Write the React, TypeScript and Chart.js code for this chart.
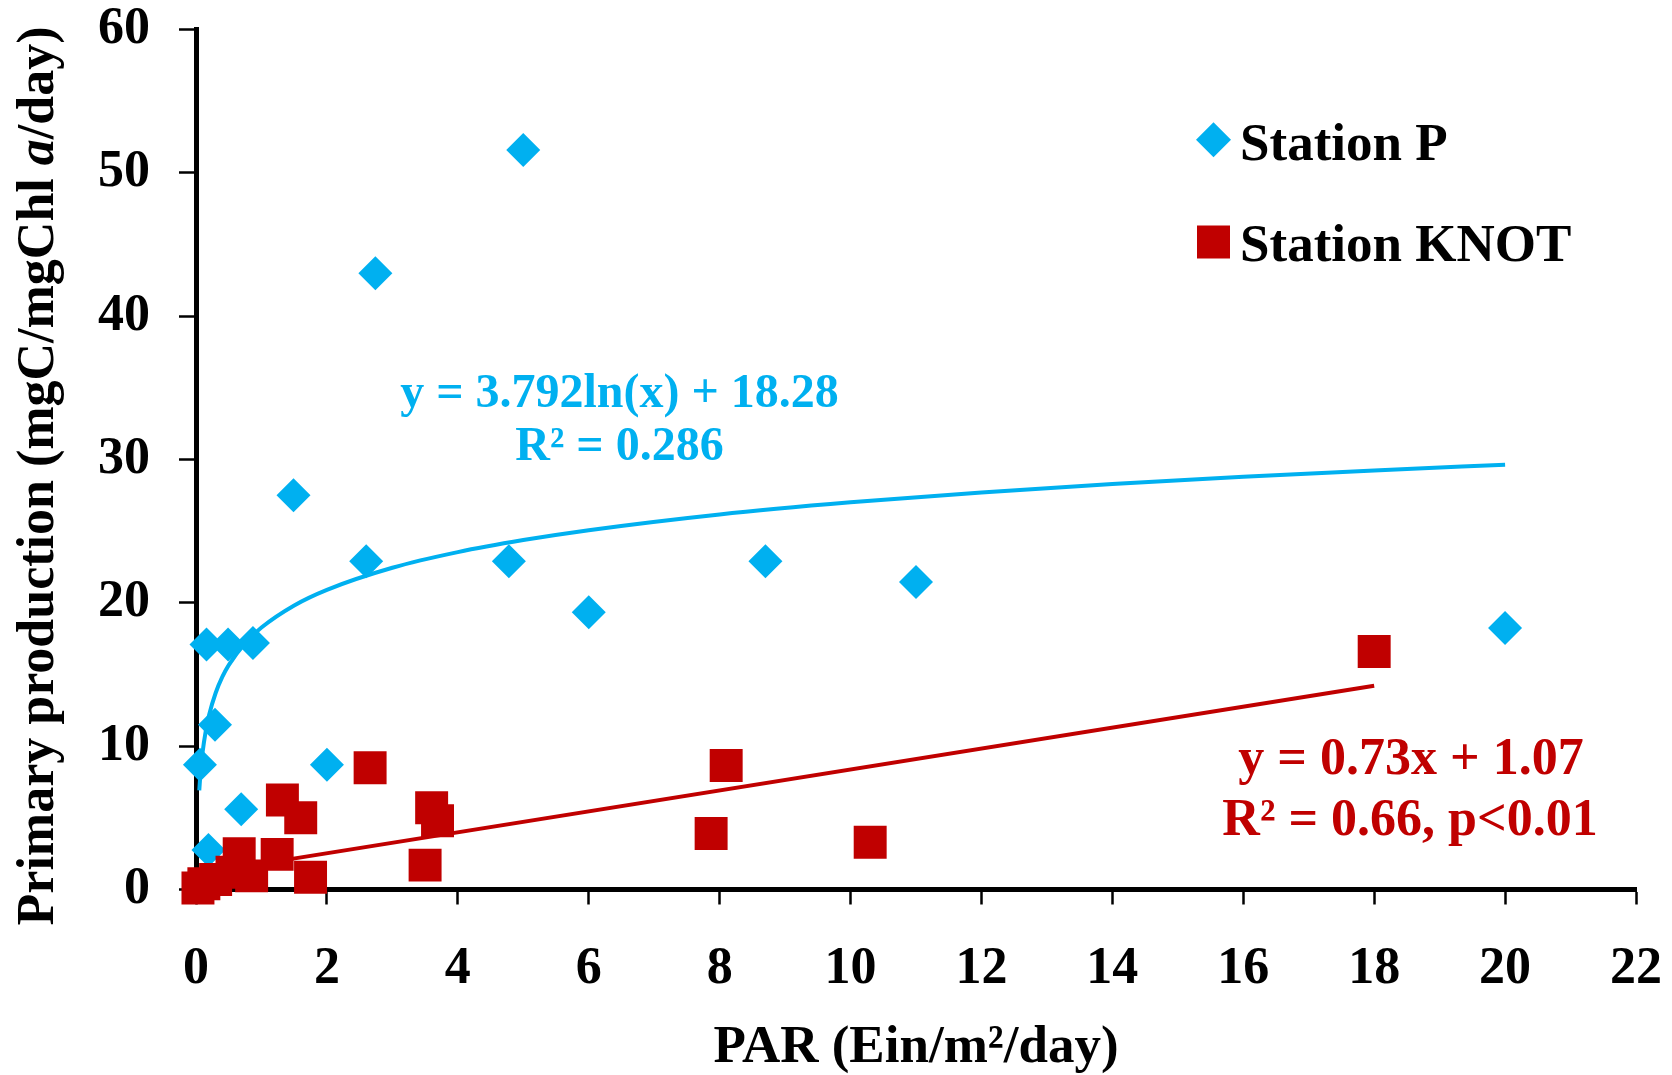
import React, { useEffect, useRef } from 'react';
import { Chart, registerables } from 'chart.js';

Chart.register(...registerables);

const FONT = '"Liberation Serif", "Times New Roman", serif';
const BLUE = '#00B0F0';
const RED = '#C00000';

const SERIES_NAMES = ['Station P', 'Station KNOT'];

// Station P (blue diamonds)
const stationPX = [5.0, 2.74, 1.49, 2.6, 4.78, 8.7, 11.0, 6.0, 20.0, 0.16, 0.49, 0.87, 0.29, 0.06, 2.0, 0.69, 0.19];
const stationPY = [51.6, 43.0, 27.5, 22.9, 22.9, 22.9, 21.45, 19.35, 18.25, 17.1, 17.1, 17.2, 11.5, 8.7, 8.7, 5.6, 2.75];

// Station KNOT (red squares)
const knotX = [18.0, 8.1, 2.66, 1.32, 1.6, 3.6, 3.69, 3.5, 7.87, 10.3, 1.24, 1.75, 0.66, 0.03, 0.12, 0.3, 0.55, 0.85];
const knotY = [16.6, 8.65, 8.5, 6.25, 5.0, 5.7, 4.8, 1.7, 3.9, 3.3, 2.45, 0.85, 2.5, 0.1, 0.4, 0.7, 1.2, 0.95];

// Trend line for Station P (logarithmic fit, as drawn)
const trendPX = [0.05, 0.07, 0.1, 0.15, 0.2, 0.3, 0.4, 0.5, 0.75, 1, 1.5, 2, 3, 4, 5, 6, 8, 10, 12, 14, 16, 18, 20];
const trendPY = [6.92, 8.2, 9.55, 11.09, 12.18, 13.71, 14.81, 15.65, 17.19, 18.28, 19.82, 20.91, 22.45, 23.54, 24.38, 25.07, 26.17, 27.01, 27.7, 28.29, 28.79, 29.24, 29.64];

// Trend line for Station KNOT (linear fit, as drawn)
const trendKX = [0.03, 18.0];
const trendKY = [1.09, 14.21];

const X_TICKS = [0, 2, 4, 6, 8, 10, 12, 14, 16, 18, 20, 22];
const Y_TICKS = [0, 10, 20, 30, 40, 50, 60];

const X_TITLE = 'PAR (Ein/m²/day)';
const Y_TITLE_PARTS = ['Primary production (mgC/mgChl ', 'a', '/day)'];
const EQ_P = ['y = 3.792ln(x) + 18.28', 'R² = 0.286'];
const EQ_K = ['y = 0.73x + 1.07', 'R² = 0.66, p<0.01'];

const toXY = (xs: number[], ys: number[]) => xs.map((x, i) => ({ x, y: ys[i] }));

const overlayPlugin = {
  id: 'overlay',
  afterDraw(chart: any) {
    const ctx = chart.ctx as CanvasRenderingContext2D;
    // Y axis title with italic "a"
    ctx.save();
    ctx.fillStyle = '#000';
    const fonts = [`bold 52px ${FONT}`, `italic bold 52px ${FONT}`, `bold 52px ${FONT}`];
    const widths = Y_TITLE_PARTS.map((t, i) => {
      ctx.font = fonts[i];
      return ctx.measureText(t).width;
    });
    const total = widths.reduce((a, b) => a + b, 0);
    ctx.translate(53, 476);
    ctx.rotate(-Math.PI / 2);
    ctx.textAlign = 'left';
    ctx.textBaseline = 'alphabetic';
    let px = -total / 2;
    Y_TITLE_PARTS.forEach((t, i) => {
      ctx.font = fonts[i];
      ctx.fillText(t, px, 0);
      px += widths[i];
    });
    ctx.restore();

    // Equations
    ctx.save();
    ctx.textAlign = 'center';
    ctx.textBaseline = 'alphabetic';
    ctx.fillStyle = BLUE;
    ctx.font = `bold 48px ${FONT}`;
    ctx.fillText(EQ_P[0], 619.5, 407);
    ctx.fillText(EQ_P[1], 619.5, 459.5);
    ctx.fillStyle = RED;
    ctx.font = `bold 52px ${FONT}`;
    ctx.fillText(EQ_K[0], 1411, 774);
    ctx.fillText(EQ_K[1], 1410, 835);
    ctx.restore();

    // Legend
    ctx.save();
    const dsP = chart.data.datasets[0];
    const dsK = chart.data.datasets[1];
    ctx.fillStyle = dsP.backgroundColor;
    const cx = 1213.5;
    let cy = 139.7;
    const r = 17.5;
    ctx.beginPath();
    ctx.moveTo(cx - r, cy);
    ctx.lineTo(cx, cy - r);
    ctx.lineTo(cx + r, cy);
    ctx.lineTo(cx, cy + r);
    ctx.closePath();
    ctx.fill();
    ctx.fillStyle = dsK.backgroundColor;
    cy = 242;
    ctx.fillRect(cx - 16.5, cy - 16.5, 33, 33);
    ctx.fillStyle = '#000';
    ctx.font = `bold 53px ${FONT}`;
    ctx.textAlign = 'left';
    ctx.textBaseline = 'alphabetic';
    ctx.fillText(dsP.label, 1240, 160);
    ctx.fillText(dsK.label, 1240, 261);
    ctx.restore();
  },
};

export default function App() {
  const canvasRef = useRef<HTMLCanvasElement | null>(null);

  useEffect(() => {
    if (!canvasRef.current) return;
    const chart = new Chart(canvasRef.current, {
      type: 'scatter',
      data: {
        datasets: [
          {
            label: SERIES_NAMES[0],
            data: toXY(stationPX, stationPY),
            backgroundColor: BLUE,
            borderColor: BLUE,
            pointStyle: 'rectRot',
            pointRadius: 17,
            pointHoverRadius: 17,
            borderWidth: 0,
            clip: false,
            order: 2,
          },
          {
            label: SERIES_NAMES[1],
            data: toXY(knotX, knotY),
            backgroundColor: RED,
            borderColor: RED,
            pointStyle: 'rect',
            pointRadius: 23.3,
            pointHoverRadius: 23.3,
            borderWidth: 0,
            clip: false,
            order: 1,
          },
          {
            label: 'trend P',
            type: 'line',
            data: toXY(trendPX, trendPY),
            borderColor: BLUE,
            backgroundColor: BLUE,
            borderWidth: 4,
            pointRadius: 0,
            showLine: true,
            fill: false,
            cubicInterpolationMode: 'monotone',
            clip: false,
            order: 3,
          } as any,
          {
            label: 'trend KNOT',
            type: 'line',
            data: toXY(trendKX, trendKY),
            borderColor: RED,
            backgroundColor: RED,
            borderWidth: 4,
            pointRadius: 0,
            showLine: true,
            fill: false,
            clip: false,
            order: 3,
          } as any,
        ],
      },
      options: {
        animation: false,
        responsive: false,
        devicePixelRatio: 1,
        layout: { padding: 0 },
        plugins: {
          legend: { display: false },
          tooltip: { enabled: false },
        },
        scales: {
          x: {
            type: 'linear',
            min: 0,
            max: 22,
            afterBuildTicks: (scale: any) => {
              scale.ticks = X_TICKS.map((v) => ({ value: v }));
            },
            afterFit: (scale: any) => {
              scale.height = 185.5;
              scale.paddingLeft = 0;
              scale.paddingRight = 36;
            },
            ticks: {
              color: '#000',
              font: { family: FONT, size: 52, weight: 'bold', lineHeight: 1.2 },
              padding: 34,
              maxRotation: 0,
              autoSkip: false,
            },
            grid: {
              drawOnChartArea: false,
              drawTicks: true,
              tickLength: 15,
              tickWidth: 2.5,
              tickColor: '#000',
              color: '#000',
            },
            border: { display: true, color: '#000', width: 5 },
            title: {
              display: true,
              text: X_TITLE,
              color: '#000',
              font: { family: FONT, size: 53, weight: 'bold', lineHeight: 1 },
              padding: 0,
            },
          },
          y: {
            type: 'linear',
            min: 0,
            max: 60,
            afterBuildTicks: (scale: any) => {
              scale.ticks = Y_TICKS.map((v) => ({ value: v }));
            },
            afterFit: (scale: any) => {
              scale.width = 196;
              scale.paddingTop = 29.5;
              scale.paddingBottom = 0;
            },
            ticks: {
              color: '#000',
              font: { family: FONT, size: 52, weight: 'bold', lineHeight: 1.2 },
              padding: 29,
              autoSkip: false,
            },
            grid: {
              drawOnChartArea: false,
              drawTicks: true,
              tickLength: 17,
              tickWidth: 2.5,
              tickColor: '#000',
              color: '#000',
            },
            border: { display: true, color: '#000', width: 5 },
            title: { display: false },
          },
        },
      } as any,
      plugins: [overlayPlugin],
    });
    return () => chart.destroy();
  }, []);

  return (
    <div style={{ position: 'absolute', left: 0, top: 0, width: 1672, height: 1075, background: '#fff' }}>
      <canvas ref={canvasRef} width={1672} height={1075} style={{ display: 'block' }} />
    </div>
  );
}
